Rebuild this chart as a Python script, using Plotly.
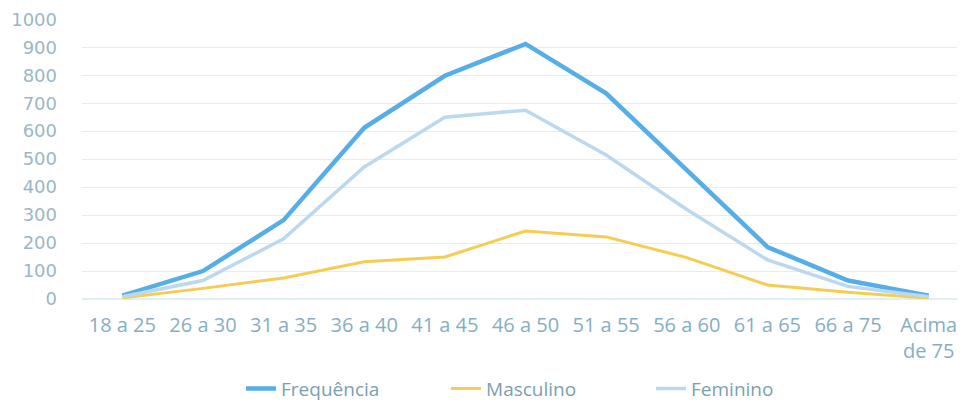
import plotly.graph_objects as go

categorias = ["18 a 25", "26 a 30", "31 a 35", "36 a 40", "41 a 45", "46 a 50",
              "51 a 55", "56 a 60", "61 a 65", "66 a 75", "Acima<br>de 75"]
frequencia = [12, 100, 282, 612, 798, 912, 735, 462, 186, 66, 12]
masculino = [4, 38, 75, 133, 150, 243, 222, 148, 50, 24, 3]
feminino = [8, 66, 215, 472, 650, 675, 515, 320, 140, 45, 8]

font_family = "Open Sans, sans-serif"
tick_color = "#86aec3"

fig = go.Figure()
fig.add_trace(go.Scatter(x=categorias, y=frequencia, name="Frequência", mode="lines",
                         line=dict(color="#56aee8", width=4.5)))
fig.add_trace(go.Scatter(x=categorias, y=masculino, name="Masculino", mode="lines",
                         line=dict(color="#f6cd52", width=3)))
fig.add_trace(go.Scatter(x=categorias, y=feminino, name="Feminino", mode="lines",
                         line=dict(color="#bcd8ee", width=3.5)))

fig.update_layout(
    width=965, height=404,
    margin=dict(l=74, r=4, t=11, b=113, autoexpand=False),
    paper_bgcolor="white", plot_bgcolor="white",
    font=dict(family=font_family, size=16, color=tick_color),
    showlegend=True,
    legend=dict(orientation="h", xref="container", yref="container",
                x=0.2415, y=0.058, xanchor="left", yanchor="middle",
                font=dict(size=19, color="#7a9fb3"),
                entrywidth=160, entrywidthmode="pixels",
                traceorder="normal"),
)
fig.update_xaxes(type="category", range=[-0.5, 10.5], showgrid=False, showline=False,
                 zeroline=False, ticks="", ticklabelstandoff=12,
                 tickfont=dict(size=20, color=tick_color))
fig.update_yaxes(range=[0, 1001], tickvals=[0, 100, 200, 300, 400, 500, 600, 700, 800, 900, 1000],
                 showgrid=True, gridcolor="#dff0f5",
                 gridwidth=1, zeroline=True, zerolinecolor="#dff0f5", showline=False,
                 ticks="", ticklabelstandoff=24,
                 tickfont=dict(size=18, color="#9ab7c6", family="DejaVu Sans, sans-serif"))

fig.write_html("out.html")
